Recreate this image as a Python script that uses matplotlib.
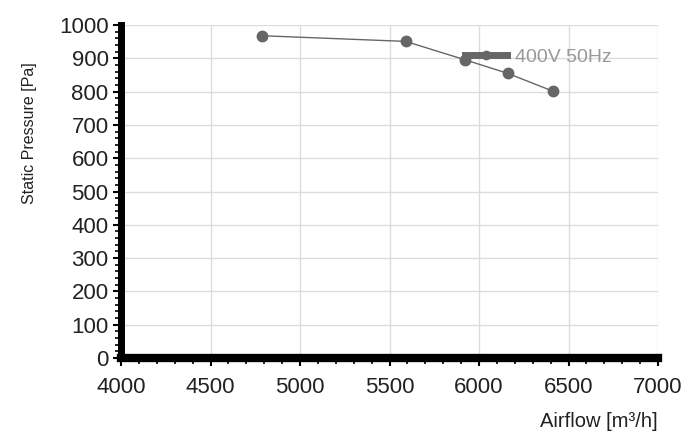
"""Courbe de ventilateur : pression statique en fonction du débit d'air."""

import matplotlib

matplotlib.use("Agg")
import matplotlib.pyplot as plt  # noqa: E402
from matplotlib.lines import Line2D  # noqa: E402
from matplotlib.ticker import MultipleLocator  # noqa: E402

# valeurs
airflow = [4790, 5590, 5920, 6160, 6415]
pressure = [968, 951, 896, 855, 801]
series_name = "400V 50Hz"

x_label = "Airflow [m³/h]"
y_label = "Static Pressure [Pa]"

plt.rcParams["font.family"] = ["Liberation Sans", "DejaVu Sans"]

fig = plt.figure(figsize=(7, 4.48), dpi=100)
ax = fig.add_axes([0.173, 0.201, 0.767, 0.743])

ax.plot(airflow, pressure, color="#666666", lw=1, marker="o", ms=7.5,
        markeredgecolor="#666666", markerfacecolor="#666666", zorder=3)

ax.set_xlim(4000, 7000)
ax.set_ylim(0, 1000)
ax.xaxis.set_major_locator(MultipleLocator(500))
ax.xaxis.set_minor_locator(MultipleLocator(100))
ax.yaxis.set_major_locator(MultipleLocator(100))
ax.yaxis.set_minor_locator(MultipleLocator(20))

ax.grid(True, which="major", color="#dcdcdc", lw=1)
ax.set_axisbelow(True)
for s in ("top", "right"):
    ax.spines[s].set_visible(False)
ax.spines["left"].set_linewidth(5)
ax.spines["bottom"].set_linewidth(6)

ax.tick_params(axis="both", which="major", labelsize=16, labelcolor="#222222",
               length=6, width=1.5, pad=3)
ax.tick_params(axis="x", which="major", pad=8)
ax.tick_params(axis="both", which="minor", length=4, width=1.2)

ax.set_xlabel(x_label, fontsize=14.5, color="#222222", loc="right", labelpad=10)
ax.set_ylabel(y_label, fontsize=11.5, color="#222222")
ax.yaxis.set_label_coords(-0.157, 0.676)

handle = Line2D([], [], color="#666666", lw=5, marker="o", ms=6)
leg = ax.legend([handle], [series_name], loc="center left",
                bbox_to_anchor=(0.641, 0.905), frameon=False, fontsize=14,
                handlelength=2.15, handletextpad=0.4, borderpad=0,
                borderaxespad=0)
for t in leg.get_texts():
    t.set_color("#999999")

fig.savefig("out.png", dpi=100)
plt.close(fig)
